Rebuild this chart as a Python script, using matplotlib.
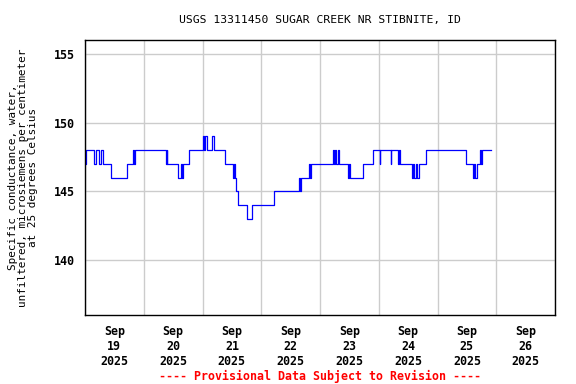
import matplotlib
matplotlib.use("Agg")
import matplotlib.pyplot as plt
import matplotlib.dates as mdates
import pandas as pd

# change points: hours after 2025-09-19 00:00, conductance value
hours = [0, 0.25, 3.7, 4.5, 5.7, 6.4, 7.5, 10.8, 17.3, 19.8, 20.0, 20.4,
         33.0, 33.3, 33.6, 38.1, 39.2, 39.6, 40.2, 42.6,
         48.1, 48.5, 49.2, 50.0, 51.9, 52.6, 57.2,
         60.6, 61.0, 61.3, 61.7, 62.6, 66.3, 68.1, 68.4, 77.3,
         87.5, 87.9, 88.3, 91.6, 91.9, 92.3,
         101.4, 101.8, 102.2, 102.7, 103.4, 103.8,
         107.6, 108.0, 108.4, 113.4, 117.7, 120.5, 120.7,
         124.9, 125.2, 128.0, 128.3, 128.7,
         133.4, 134.0, 134.5, 135.3, 135.8, 136.6, 139.3,
         155.6, 158.4, 158.8, 159.2, 160.0, 161.4, 161.7, 162.0, 166.0]
values = [147, 148, 147, 148, 147, 148, 147, 146, 147, 148, 147, 148,
          147, 148, 147, 146, 147, 146, 147, 148,
          149, 148, 149, 148, 149, 148, 147,
          146, 147, 146, 145, 144, 143, 144, 144, 145,
          146, 145, 146, 147, 146, 147,
          148, 147, 148, 147, 148, 147,
          146, 147, 146, 147, 148, 147, 148,
          147, 148, 147, 148, 147,
          146, 147, 146, 147, 146, 147, 148,
          147, 146, 147, 146, 147, 148, 147, 148, 148]

start = pd.Timestamp("2025-09-19 00:00")
times = [start + pd.Timedelta(hours=h) for h in hours]

day_ticks = pd.date_range("2025-09-19 12:00", periods=8, freq="D")
day_labels = [d.strftime("Sep\n%d\n%Y") for d in day_ticks]

plt.rcParams["font.family"] = "DejaVu Sans Mono"
plt.rcParams["font.weight"] = "bold"
plt.rcParams["font.size"] = 8.4

fig = plt.figure(figsize=(5.76, 3.84), dpi=100)
ax = fig.add_axes([85/576, 1-315/384, 470/576, 275/384])

ax.plot(times, values, color="#0000ff", linewidth=0.9, drawstyle="steps-post")

ax.set_xlim(pd.Timestamp("2025-09-19"), pd.Timestamp("2025-09-27"))
ax.set_ylim(136, 156)
ax.set_yticks([140, 145, 150, 155])

ax.xaxis.set_major_locator(mdates.DayLocator())
ax.xaxis.set_major_formatter(plt.NullFormatter())
ax.set_xticks(day_ticks, minor=True)
ax.set_xticklabels(day_labels, minor=True)
ax.tick_params(axis="x", which="both", length=0, pad=7)
ax.tick_params(axis="y", length=0, pad=7)

ax.grid(True, which="major", color="#cccccc", linewidth=1)
ax.set_axisbelow(True)
for s in ax.spines.values():
    s.set_linewidth(1)

ax.set_title("USGS 13311450 SUGAR CREEK NR STIBNITE, ID", fontsize=8.2, pad=12)
ax.set_ylabel("Specific conductance, water,\nunfiltered, microsiemens per centimeter\nat 25 degrees Celsius",
              fontsize=7.9, labelpad=12, linespacing=1.0)

fig.text(320/576, 1-376/384, "---- Provisional Data Subject to Revision ----",
         color="red", ha="center", va="center", fontsize=8.4)

fig.savefig("out.png", dpi=100)
